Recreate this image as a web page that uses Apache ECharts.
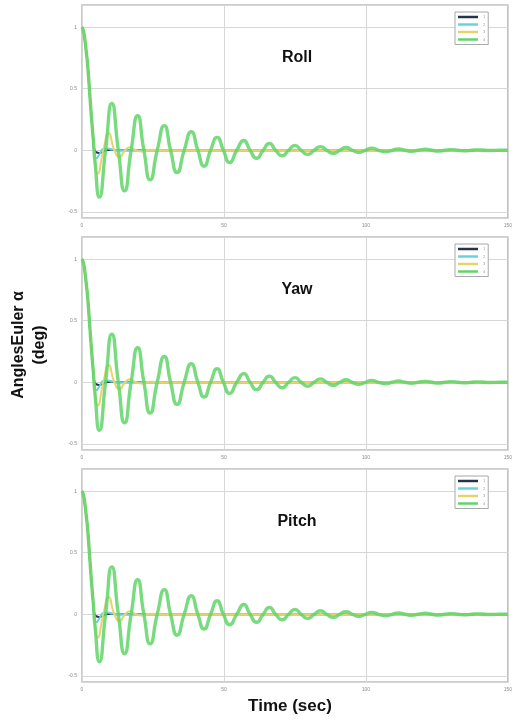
<!DOCTYPE html>
<html>
<head>
<meta charset="utf-8">
<script src="https://cdn.jsdelivr.net/npm/echarts@6/dist/echarts.min.js"></script>
<style>
  html, body { margin: 0; padding: 0; background: #ffffff; }
  #chart { width: 515px; height: 721px; }
</style>
</head>
<body>
<div id="chart"></div>
<script>
// Panel titles and axis ticks
const panelTitles = ['Roll', 'Yaw', 'Pitch'];
const seriesNames = ['1', '2', '3', '4'];
const xTicks = [0, 50, 100, 150];
const yTicks = [-0.5, 0, 0.5, 1];

// Step responses (time in s, angle in deg, normalised)
const darkTime = [0, 0.5, 1, 1.5, 2, 2.6, 3, 3.5, 4, 4.3, 5, 6, 7, 8.5, 10, 13, 20, 150];
const darkVals = [1, 0.97, 0.9, 0.8, 0.69, 0.5, 0.37, 0.22, 0.08, 0.01, -0.015, -0.022, -0.015, 0, 0.004, 0, 0, 0];

const cyanTime = [0, 0.5, 1, 1.5, 2, 2.6, 3, 3.5, 4, 4.4, 5.1, 6.2, 7.5, 9, 11, 14, 150];
const cyanVals = [1, 0.97, 0.9, 0.8, 0.69, 0.5, 0.37, 0.22, 0.08, -0.02, -0.065, -0.03, 0.01, 0.015, 0.004, 0, 0];

const yellowTime = [0, 0.5, 1, 1.5, 2, 2.6, 3, 3.5, 4, 4.6, 5.5, 7.5, 9.4, 11.4, 13.3, 15.2, 17, 19, 21, 24, 30, 150];
const yellowVals = [1, 0.97, 0.9, 0.8, 0.69, 0.5, 0.37, 0.22, 0.08, -0.08, -0.19, 0, 0.14, 0, -0.055, 0, 0.025, 0, -0.01, 0.004, 0, 0];

const greenTime = [0, 0.5, 1, 1.5, 2, 2.6, 3, 3.5, 4, 4.6, 6.1, 8.3, 10.5, 12.8, 15, 17.3, 19.6, 21.8, 24, 26.5, 29, 31.2,
  33.5, 36, 38.5, 40.8, 43, 45.3, 47.6, 49.8, 52, 54.5, 57, 59.2, 61.5, 63.8, 66, 68.2, 70.5, 72.8, 75, 77.2, 79.5,
  81.8, 84, 86.2, 88.5, 90.8, 93, 95.2, 97.5, 99.8, 102, 104.5, 107, 109.2, 111.5, 113.8, 116, 118.5, 121, 123.2,
  125.5, 127.8, 130, 132.5, 135, 137.2, 139.5, 141.8, 144, 147, 150];
const greenRoll = [1, 0.97, 0.9, 0.8, 0.69, 0.5, 0.37, 0.22, 0.08, -0.1, -0.38, 0, 0.38, 0, -0.33, 0, 0.28, 0, -0.24, 0, 0.2, 0,
  -0.18, 0, 0.15, 0, -0.13, 0, 0.105, 0, -0.1, 0, 0.08, 0, -0.065, 0, 0.055, 0, -0.045, 0, 0.04, 0, -0.033,
  0, 0.03, 0, -0.025, 0, 0.022, 0, -0.018, 0, 0.016, 0, -0.013, 0, 0.011, 0, -0.009, 0, 0.008, 0,
  -0.006, 0, 0.005, 0, -0.004, 0, 0.003, 0, -0.002, 0, 0];
const greenYaw = [1, 0.97, 0.9, 0.8, 0.69, 0.5, 0.37, 0.22, 0.08, -0.1, -0.39, 0, 0.39, 0, -0.33, 0, 0.28, 0, -0.25, 0, 0.21, 0,
  -0.18, 0, 0.15, 0, -0.12, 0, 0.11, 0, -0.09, 0, 0.07, 0, -0.06, 0, 0.05, 0, -0.045, 0, 0.038, 0, -0.032,
  0, 0.028, 0, -0.024, 0, 0.02, 0, -0.017, 0, 0.015, 0, -0.012, 0, 0.01, 0, -0.008, 0, 0.007, 0,
  -0.006, 0, 0.005, 0, -0.004, 0, 0.003, 0, -0.002, 0, 0];
const greenPitch = [1, 0.97, 0.9, 0.8, 0.69, 0.5, 0.37, 0.22, 0.08, -0.1, -0.385, 0, 0.385, 0, -0.32, 0, 0.28, 0, -0.24, 0, 0.2, 0,
  -0.17, 0, 0.15, 0, -0.12, 0, 0.11, 0, -0.085, 0, 0.08, 0, -0.065, 0, 0.055, 0, -0.045, 0, 0.04, 0, -0.033,
  0, 0.029, 0, -0.025, 0, 0.021, 0, -0.018, 0, 0.015, 0, -0.013, 0, 0.011, 0, -0.009, 0, 0.008, 0,
  -0.006, 0, 0.005, 0, -0.004, 0, 0.003, 0, -0.002, 0, 0];
const greenByPanel = [greenRoll, greenYaw, greenPitch];

const colors = ['#25344a', '#63d4e0', '#e9d26c', '#62d56a'];
const widths = [2, 2, 2, 3.4];

function pairs(t, v) { return t.map((x, i) => [x, v[i]]); }

const panelTops = [5, 237, 469];
const panelHeight = 213;
const font = '"Liberation Sans", Arial, sans-serif';

const grids = [], xAxes = [], yAxes = [], series = [], legends = [], graphics = [];

panelTops.forEach((top, p) => {
  grids.push({
    left: 82, width: 429, top: top, height: panelHeight,
    show: true, borderColor: '#bcbcbc', borderWidth: 1.5, backgroundColor: '#ffffff'
  });
  xAxes.push({
    type: 'value', gridIndex: p, min: 0, max: 150, interval: 50,
    axisLine: { show: false }, axisTick: { show: false },
    axisLabel: { fontSize: 5, color: '#8a8a8a', margin: 5, fontFamily: font },
    splitLine: { show: true, lineStyle: { color: '#d6d6d6', width: 1 } }
  });
  yAxes.push({
    type: 'value', gridIndex: p, min: -0.55, max: 1.18, splitNumber: 3,
    axisLine: { show: false }, axisTick: { show: false },
    axisLabel: {
      fontSize: 5, color: '#8a8a8a', margin: 5, fontFamily: font,
      showMinLabel: false, showMaxLabel: false,
      formatter: v => (yTicks.some(t => Math.abs(t - v) < 1e-6) ? String(v) : '')
    },
    splitLine: { show: true, lineStyle: { color: '#d6d6d6', width: 1 } }
  });
  const sets = [
    pairs(darkTime, darkVals),
    pairs(cyanTime, cyanVals),
    pairs(yellowTime, yellowVals),
    pairs(greenTime, greenByPanel[p])
  ];
  sets.forEach((d, k) => {
    series.push({
      name: seriesNames[k], type: 'line', xAxisIndex: p, yAxisIndex: p,
      data: d, smooth: 0.6, showSymbol: false, symbol: 'none',
      lineStyle: { color: colors[k], width: widths[k], opacity: k === 3 ? 0.85 : 1 },
      itemStyle: { color: colors[k] },
      z: 2 + k, animation: false
    });
  });
  legends.push({
    data: seriesNames.map(n => ({ name: n, icon: 'rect' })),
    orient: 'vertical', left: 455, top: top + 7,
    itemWidth: 20, itemHeight: 2.5, itemGap: 3.5, padding: [3, 3, 3, 3],
    backgroundColor: '#ffffff', borderColor: '#a8a8a8', borderWidth: 1,
    textStyle: { fontSize: 4, color: '#999999', fontFamily: font },
    selectedMode: false
  });
  graphics.push({
    type: 'text', x: 297, y: top + 53,
    style: { text: panelTitles[p], font: 'bold 16px ' + font, fill: '#111111', align: 'center', verticalAlign: 'middle' }
  });
});

// shared axis names
graphics.push({
  type: 'text', x: 19, y: 345, rotation: Math.PI / 2,
  style: { text: 'AnglesEuler α', font: 'bold 16px ' + font, fill: '#111111', align: 'center', verticalAlign: 'middle' }
});
graphics.push({
  type: 'text', x: 40, y: 345, rotation: Math.PI / 2,
  style: { text: '(deg)', font: 'bold 16px ' + font, fill: '#111111', align: 'center', verticalAlign: 'middle' }
});
graphics.push({
  type: 'text', x: 290, y: 706,
  style: { text: 'Time (sec)', font: 'bold 17px ' + font, fill: '#111111', align: 'center', verticalAlign: 'middle' }
});

const chart = echarts.init(document.getElementById('chart'), null, { renderer: 'canvas' });
chart.setOption({
  animation: false,
  backgroundColor: '#ffffff',
  grid: grids, xAxis: xAxes, yAxis: yAxes,
  legend: legends, series: series, graphic: graphics
});
</script>
</body>
</html>
